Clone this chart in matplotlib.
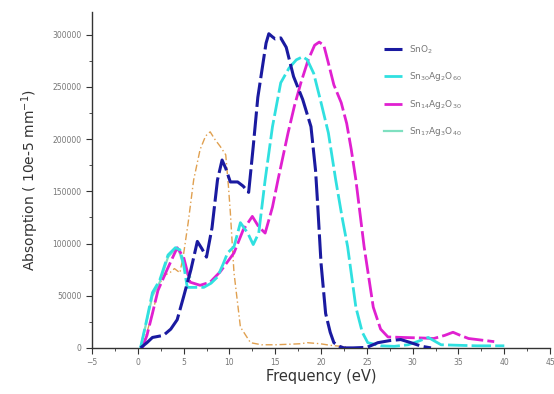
import matplotlib
matplotlib.use("Agg")
import matplotlib.pyplot as plt
from matplotlib.ticker import MultipleLocator

# SnO2 (dark blue)
x_sno2 = [0.3, 1.0, 1.6, 2.8, 3.6, 4.3, 5.0, 5.8, 6.5, 7.0, 7.5, 8.1, 8.7, 9.2, 9.6, 10.1, 10.9, 11.5, 12.1, 12.6,
          13.1, 13.6, 14.0, 14.3, 14.7, 15.0, 15.6, 16.2, 17.0, 18.0, 18.9, 19.4, 19.6, 20.0, 20.5, 21.0, 21.4, 22.0,
          22.5, 23.5, 25.0, 26.2, 27.5, 28.7, 29.8, 31.0, 32.0]
y_sno2 = [0, 5000, 10000, 12000, 18000, 27000, 49000, 75000, 102000, 95000, 87000, 115000, 161000, 180000, 172000,
          159000, 159000, 155000, 149000, 193000, 240000, 269000, 292000, 301000, 298000, 296000, 297000, 288000,
          260000, 238000, 212000, 170000, 142000, 81000, 33000, 15000, 5000, 1500, 0, 0, 500, 5000, 7000, 8000, 5000,
          1500, 0]

# Sn30Ag2O60 (cyan)
x_cy = [0.3, 1.0, 1.6, 2.4, 3.3, 4.1, 4.6, 5.0, 5.4, 6.3, 7.2, 8.0, 8.7, 9.3, 9.8, 10.5, 11.2, 11.6, 12.0, 12.6,
        13.2, 13.9, 14.7, 15.6, 16.5, 17.3, 18.0, 18.5, 19.2, 20.0, 20.8, 21.6, 22.3, 22.9, 23.8, 24.5, 25.1, 26.5,
        28.0, 29.5, 30.5, 31.7, 33.1, 35.0, 37.0, 40.0]
y_cy = [0, 28000, 53000, 65000, 89000, 96000, 94000, 80000, 58000, 58000, 58000, 62000, 68000, 80000, 91000, 97000,
        120000, 115000, 110000, 99000, 110000, 161000, 212000, 254000, 268000, 276000, 279000, 276000, 263000, 235000,
        206000, 161000, 125000, 97000, 39000, 15000, 5000, 2000, 1500, 3000, 6000, 10000, 3000, 2500, 2000, 2000]

# Sn14Ag2O30 (magenta)
x_mg = [0.5, 1.0, 1.6, 2.2, 3.2, 4.3, 5.0, 5.7, 6.8, 7.9, 9.0, 10.5, 11.5, 12.5, 13.2, 13.9, 14.7, 15.3, 16.4, 17.1,
        17.8, 18.6, 19.3, 19.8, 20.3, 20.8, 21.4, 22.2, 22.8, 23.3, 23.8, 24.7, 25.7, 26.5, 27.3, 29.0, 31.0, 32.3,
        33.5, 34.4, 35.2, 36.1, 37.5, 38.9]
y_mg = [0, 12000, 33000, 55000, 75000, 96000, 87000, 63000, 60000, 63000, 73000, 91000, 113000, 126000, 116000,
        110000, 135000, 161000, 206000, 232000, 254000, 276000, 290000, 293000, 290000, 273000, 252000, 235000,
        215000, 190000, 161000, 97000, 39000, 18000, 10500, 10000, 9500, 9000, 12000, 15000, 12000, 9000, 7500, 6000]

# Sn17Ag3O40 (pale cyan)
x_pc = [0.3, 1.6, 2.4, 3.3, 4.1, 4.5, 4.9, 5.3, 5.7]
y_pc = [0, 50000, 63000, 87000, 95000, 93000, 82000, 72000, 68000]

# orange dash-dot curve
x_or = [0.6, 1.0, 1.6, 2.4, 3.0, 3.5, 4.0, 4.6, 5.0, 5.5, 6.1, 6.8, 7.4, 7.9, 8.4, 9.0, 9.6, 9.9, 10.1, 10.5, 11.2,
        12.3, 13.5, 15.0, 16.5, 17.8, 18.5, 19.9, 21.0, 22.8]
y_or = [3000, 15000, 33000, 62000, 70000, 72000, 76000, 72000, 90000, 120000, 161000, 190000, 203000, 207000, 200000,
        193000, 185000, 154000, 130000, 72000, 20000, 5000, 3000, 3000, 3500, 4000, 5000, 4000, 2500, 1000]

labels = [r"SnO$_2$", r"Sn$_{30}$Ag$_2$O$_{60}$", r"Sn$_{14}$Ag$_2$O$_{30}$", r"Sn$_{17}$Ag$_3$O$_{40}$"]

fig = plt.figure(figsize=(5.54, 3.94), dpi=100)
ax = fig.add_axes([0.166, 0.117, 0.827, 0.853])

ax.plot(x_or, y_or, color="#e0a050", lw=1.0, ls=(0, (5, 2, 1, 2)), zorder=1)
ax.plot(x_pc, y_pc, color="#7fe0c0", lw=1.6, zorder=2, label=labels[3])
ax.plot(x_mg, y_mg, color="#e020d0", lw=2.0, ls=(0, (7, 1.5)), zorder=3, label=labels[2])
ax.plot(x_cy, y_cy, color="#30e0e0", lw=2.0, ls=(0, (7, 1.5)), zorder=4, label=labels[1])
ax.plot(x_sno2, y_sno2, color="#1a1aa0", lw=2.2, ls=(0, (8, 1.5)), zorder=5, label=labels[0])

ax.set_xlim(-5, 45)
ax.set_ylim(0, 322000)
ax.xaxis.set_major_locator(MultipleLocator(5))
ax.xaxis.set_minor_locator(MultipleLocator(2.5))
ax.yaxis.set_major_locator(MultipleLocator(50000))
ax.yaxis.set_minor_locator(MultipleLocator(25000))
for s in ["top", "right"]:
    ax.spines[s].set_visible(False)
for s in ["left", "bottom"]:
    ax.spines[s].set_color("#333333")
    ax.spines[s].set_linewidth(1.0)
ax.tick_params(axis="both", which="major", labelsize=5.5, labelcolor="#777777", length=4, color="#333333")
ax.tick_params(axis="both", which="minor", length=2.5, color="#333333")

ax.set_xlabel("Frequency (eV)", fontsize=10.5, color="#333333", labelpad=1)
ax.set_ylabel("Absorption ( 10e-5 mm$^{-1}$)", fontsize=10, color="#333333", labelpad=8)

h, l = ax.get_legend_handles_labels()
order = [3, 2, 1, 0]
ax.legend([h[i] for i in order], [l[i] for i in order], loc="upper left", bbox_to_anchor=(0.62, 0.93),
          frameon=False, fontsize=6.5, labelcolor="#777777", handlelength=2.0, labelspacing=1.6)

fig.savefig("out.png", dpi=100)
